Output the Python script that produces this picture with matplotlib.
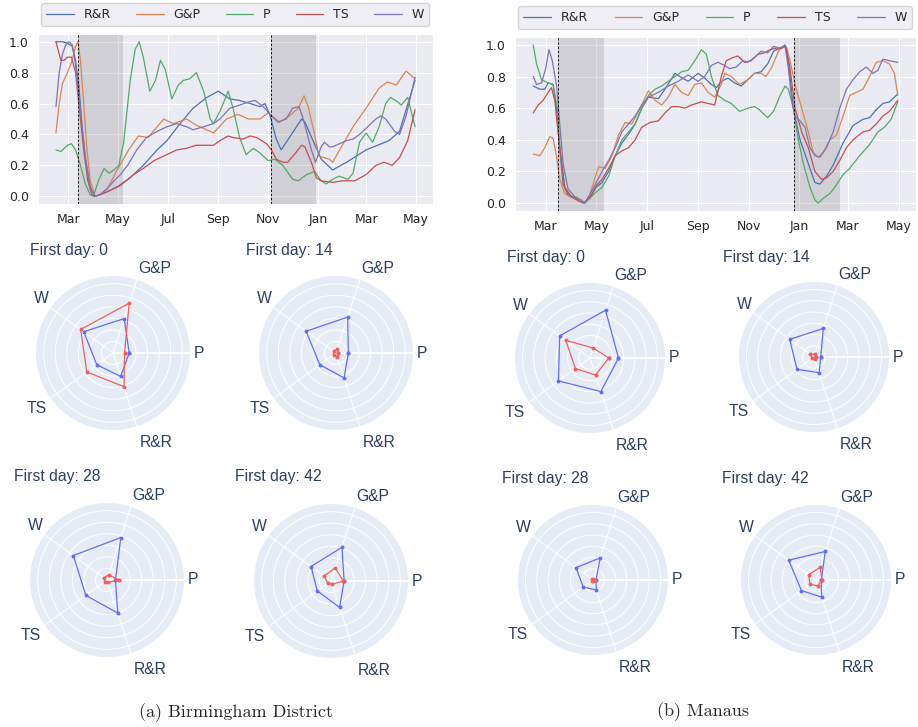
import numpy as np
import pandas as pd
import matplotlib
matplotlib.use('Agg')
import matplotlib.pyplot as plt
import matplotlib.patches as mpatches
import seaborn as sns

sns.set_style('darkgrid')

# ---- data ----
start = pd.Timestamp('2020-03-01')
series_names = ['R&R', 'G&P', 'P', 'TS', 'W']
line_colors = sns.color_palette('deep')[:5]

# Birmingham District (days from 1 Mar 2020, normalised mobility)
bd_rr_day = [-15, -7, -1, 5, 9, 13, 17, 21, 27, 33, 48, 60, 76, 92, 109, 121, 137, 153, 170, 184,
             198, 210, 223, 235, 241, 247, 255, 261, 271, 286, 290, 300, 310, 324, 341, 365, 393, 406, 425]
bd_rr = [1.0, 1.0, 0.99, 0.97, 0.88, 0.72, 0.45, 0.25, 0.06, 0.0, 0.03, 0.06, 0.12, 0.2, 0.3, 0.36, 0.47, 0.57, 0.64, 0.68,
         0.63, 0.62, 0.6, 0.58, 0.6, 0.53, 0.37, 0.3, 0.38, 0.5, 0.48, 0.36, 0.24, 0.17, 0.22, 0.3, 0.36, 0.42, 0.75]
bd_gp_day = [-15, -11, -7, -1, 5, 9, 12, 15, 19, 23, 27, 33, 39, 48, 60, 74, 86, 98, 109, 117, 129, 145, 157,
             178, 194, 208, 221, 235, 245, 259, 271, 282, 289, 294, 302, 307, 320, 324, 336, 349, 365, 381, 391, 402, 414, 425]
bd_gp = [0.41, 0.6, 0.73, 0.8, 0.88, 0.97, 1.0, 0.88, 0.6, 0.3, 0.1, 0.0, 0.01, 0.05, 0.17, 0.3, 0.39, 0.38, 0.45, 0.5, 0.47, 0.5, 0.46,
         0.41, 0.5, 0.53, 0.5, 0.5, 0.54, 0.48, 0.52, 0.57, 0.65, 0.58, 0.4, 0.26, 0.24, 0.22, 0.33, 0.45, 0.57, 0.7, 0.74, 0.72, 0.81, 0.76]
bd_p_day = [-15, -9, -1, 4, 9, 15, 21, 27, 31, 37, 44, 50, 56, 62, 68, 76, 82, 87, 92, 100, 107, 113, 119, 127, 135, 141,
            149, 157, 166, 174, 178, 186, 196, 202, 210, 218, 227, 235, 245, 253, 263, 275, 282, 292, 302, 310, 316, 324,
            332, 343, 349, 357, 365, 373, 381, 389, 395, 404, 408, 416, 425]
bd_p = [0.3, 0.29, 0.33, 0.34, 0.3, 0.2, 0.08, 0.01, 0.0, 0.1, 0.18, 0.15, 0.17, 0.2, 0.35, 0.75, 0.95, 1.0, 0.9, 0.68, 0.75, 0.88, 0.82, 0.63, 0.72, 0.75,
        0.76, 0.8, 0.68, 0.5, 0.47, 0.55, 0.68, 0.57, 0.38, 0.27, 0.31, 0.28, 0.23, 0.24, 0.2, 0.11, 0.1, 0.14, 0.16, 0.1, 0.08, 0.11,
        0.13, 0.11, 0.15, 0.35, 0.41, 0.35, 0.45, 0.6, 0.64, 0.61, 0.59, 0.64, 0.45]
bd_ts_day = [-15, -9, -5, -1, 4, 9, 13, 19, 24, 29, 33, 44, 56, 64, 80, 92, 105, 121, 133, 145, 157, 178, 186, 196, 202,
             214, 223, 231, 243, 249, 255, 263, 269, 277, 286, 290, 298, 304, 310, 324, 336, 351, 365, 377, 387, 397, 406, 416, 425]
bd_ts = [1.0, 0.88, 0.88, 0.9, 0.9, 0.8, 0.6, 0.3, 0.1, 0.01, 0.0, 0.02, 0.05, 0.07, 0.14, 0.18, 0.23, 0.27, 0.3, 0.31, 0.33, 0.33, 0.36, 0.39, 0.38,
         0.37, 0.39, 0.38, 0.34, 0.3, 0.24, 0.22, 0.22, 0.27, 0.33, 0.32, 0.22, 0.12, 0.1, 0.09, 0.1, 0.1, 0.14, 0.2, 0.22, 0.2, 0.25, 0.36, 0.56]
bd_w_day = [-15, -11, -7, -3, 1, 5, 9, 15, 21, 27, 33, 39, 48, 56, 64, 74, 84, 96, 109, 121, 133, 145, 153, 166, 178, 186,
            198, 210, 221, 229, 239, 249, 257, 267, 275, 283, 288, 298, 303, 310, 314, 320, 324, 341, 349, 357, 369, 377,
            383, 389, 400, 406, 414, 425]
bd_w = [0.58, 0.8, 0.92, 0.98, 1.0, 0.98, 0.85, 0.55, 0.25, 0.05, 0.0, 0.01, 0.05, 0.1, 0.14, 0.21, 0.3, 0.38, 0.42, 0.45, 0.47, 0.45, 0.43, 0.45, 0.47, 0.5,
        0.57, 0.59, 0.61, 0.62, 0.58, 0.52, 0.48, 0.5, 0.57, 0.58, 0.5, 0.3, 0.22, 0.32, 0.35, 0.32, 0.32, 0.36, 0.37, 0.4, 0.46, 0.5,
        0.52, 0.5, 0.42, 0.4, 0.52, 0.77]

# Manaus
mn_rr_day = [-15, -7, -1, 3, 9, 13, 17, 21, 27, 35, 43, 47, 53, 61, 68, 76, 84, 92, 102, 108, 116, 124, 136, 144, 156, 162,
             172, 184, 192, 200, 206, 212, 220, 228, 236, 244, 252, 260, 268, 275, 283, 289, 293, 299, 307, 317, 325, 331,
             339, 347, 359, 371, 383, 391, 399, 407, 415, 425]
mn_rr = [0.74, 0.72, 0.72, 0.76, 0.75, 0.6, 0.35, 0.12, 0.05, 0.03, 0.01, 0.0, 0.03, 0.1, 0.13, 0.2, 0.3, 0.38, 0.45, 0.5, 0.6, 0.67, 0.66, 0.72, 0.82, 0.8,
         0.77, 0.82, 0.79, 0.75, 0.73, 0.77, 0.79, 0.76, 0.74, 0.78, 0.82, 0.83, 0.88, 0.96, 0.98, 1.0, 0.9, 0.6, 0.4, 0.25, 0.13, 0.12,
         0.17, 0.24, 0.38, 0.49, 0.53, 0.54, 0.59, 0.63, 0.64, 0.69]
mn_gp_day = [-15, -7, -1, 5, 9, 13, 17, 23, 29, 37, 43, 47, 53, 59, 64, 72, 80, 88, 96, 104, 114, 124, 132, 140, 148, 156,
             164, 172, 180, 188, 196, 204, 212, 216, 224, 234, 244, 252, 260, 266, 273, 281, 287, 291, 295, 301, 309, 317,
             323, 329, 335, 343, 351, 359, 367, 375, 383, 391, 399, 407, 415, 421, 425]
mn_gp = [0.31, 0.3, 0.35, 0.42, 0.41, 0.3, 0.15, 0.06, 0.04, 0.04, 0.01, 0.0, 0.05, 0.15, 0.23, 0.22, 0.3, 0.43, 0.51, 0.5, 0.6, 0.71, 0.65, 0.62, 0.67, 0.75,
         0.7, 0.68, 0.75, 0.76, 0.7, 0.67, 0.75, 0.82, 0.8, 0.75, 0.78, 0.82, 0.82, 0.8, 0.86, 0.96, 0.99, 0.98, 0.9, 0.75, 0.6, 0.45,
         0.32, 0.29, 0.32, 0.4, 0.43, 0.55, 0.68, 0.7, 0.72, 0.8, 0.89, 0.9, 0.88, 0.82, 0.68]
mn_p_day = [-15, -11, -5, 3, 9, 14, 17, 23, 29, 37, 45, 53, 61, 68, 76, 84, 92, 100, 108, 116, 124, 132, 140, 148, 156, 164,
            172, 180, 188, 194, 200, 208, 216, 224, 234, 244, 252, 258, 268, 275, 283, 289, 293, 299, 305, 311, 319, 325,
            329, 335, 343, 349, 359, 367, 379, 391, 401, 409, 417, 425]
mn_p = [1.0, 0.88, 0.78, 0.76, 0.75, 0.6, 0.35, 0.1, 0.05, 0.03, 0.0, 0.03, 0.07, 0.1, 0.17, 0.3, 0.4, 0.45, 0.5, 0.6, 0.68, 0.72, 0.74, 0.77, 0.8, 0.83,
        0.84, 0.9, 0.97, 0.94, 0.8, 0.68, 0.65, 0.63, 0.58, 0.6, 0.61, 0.59, 0.54, 0.58, 0.68, 0.74, 0.72, 0.6, 0.4, 0.25, 0.1, 0.02,
        0.0, 0.03, 0.06, 0.1, 0.18, 0.22, 0.3, 0.37, 0.45, 0.48, 0.53, 0.64]
mn_ts_day = [-15, -9, -3, 3, 7, 11, 17, 23, 31, 41, 47, 55, 61, 68, 76, 84, 92, 100, 108, 116, 126, 136, 144, 152, 160, 168,
             176, 188, 196, 204, 212, 218, 226, 232, 240, 248, 256, 264, 271, 279, 285, 290, 295, 301, 309, 317, 325, 333,
             339, 347, 355, 363, 371, 383, 391, 399, 407, 415, 425]
mn_ts = [0.57, 0.62, 0.65, 0.7, 0.73, 0.65, 0.35, 0.1, 0.04, 0.01, 0.0, 0.05, 0.11, 0.15, 0.22, 0.3, 0.33, 0.35, 0.4, 0.48, 0.51, 0.52, 0.57, 0.61, 0.61, 0.6,
         0.62, 0.64, 0.63, 0.62, 0.8, 0.9, 0.92, 0.93, 0.89, 0.9, 0.94, 0.95, 0.97, 0.98, 0.98, 0.99, 0.85, 0.6, 0.45, 0.35, 0.2, 0.15,
         0.16, 0.2, 0.27, 0.35, 0.4, 0.45, 0.46, 0.5, 0.55, 0.58, 0.65]
mn_w_day = [-15, -11, -5, 0, 4, 8, 13, 17, 21, 27, 35, 43, 47, 53, 61, 68, 76, 84, 92, 100, 108, 116, 124, 136, 148, 160,
            172, 184, 192, 200, 208, 216, 222, 230, 238, 244, 252, 260, 268, 275, 283, 289, 293, 297, 301, 307, 313, 319,
            325, 331, 339, 347, 355, 363, 371, 379, 387, 395, 401, 407, 415, 425]
mn_w = [0.8, 0.75, 0.76, 0.85, 0.97, 0.9, 0.75, 0.5, 0.25, 0.09, 0.04, 0.02, 0.0, 0.05, 0.13, 0.2, 0.27, 0.35, 0.45, 0.5, 0.55, 0.62, 0.67, 0.7, 0.74, 0.77,
        0.81, 0.77, 0.8, 0.87, 0.89, 0.87, 0.85, 0.86, 0.9, 0.89, 0.92, 0.96, 0.95, 0.99, 0.98, 0.99, 0.85, 0.65, 0.55, 0.52, 0.48, 0.35,
        0.3, 0.29, 0.35, 0.45, 0.6, 0.72, 0.78, 0.83, 0.86, 0.82, 0.84, 0.91, 0.9, 0.89]

# lockdown start days (8-week window shaded)
bd_lockdowns = [12, 249]
mn_lockdowns = [15, 300]
window_days = 55

# radar charts: axis order counter-clockwise from the right
radar_labels = ['P', 'G&P', 'W', 'TS', 'R&R']
radar_days = [0, 14, 28, 42]
bd_radar_blue = [[0.21, 0.47, 0.47, 0.26, 0.32], [0.16, 0.49, 0.48, 0.26, 0.34],
                 [0.11, 0.58, 0.54, 0.34, 0.45], [0.17, 0.46, 0.32, 0.22, 0.36]]
bd_radar_red = [[0.15, 0.68, 0.52, 0.42, 0.46], [0.03, 0.05, 0.04, 0.04, 0.05],
                [0.16, 0.07, 0.05, 0.035, 0.03], [0.16, 0.18, 0.11, 0.05, 0.045]]
mn_radar_blue = [[0.38, 0.67, 0.50, 0.52, 0.47], [0.09, 0.40, 0.40, 0.28, 0.22],
                 [0.04, 0.31, 0.28, 0.16, 0.14], [0.07, 0.40, 0.45, 0.24, 0.24]]
mn_radar_red = [[0.25, 0.14, 0.40, 0.24, 0.24], [0.02, 0.04, 0.06, 0.03, 0.03],
                [0.02, 0.02, 0.02, 0.02, 0.02], [0.08, 0.18, 0.12, 0.10, 0.08]]

W_PX, H_PX = 918, 727
fig = plt.figure(figsize=(W_PX / 100, H_PX / 100), dpi=100)


def px_rect(x0, y0, x1, y1):
    # image pixel box (top-left origin) -> figure fraction rect
    return [x0 / W_PX, 1 - y1 / H_PX, (x1 - x0) / W_PX, (y1 - y0) / H_PX]


def line_panel(rect, data, lockdowns):
    ax = fig.add_axes(rect)
    for name, (days, vals), c in zip(series_names, data, line_colors):
        dates = start + pd.to_timedelta(days, unit='D')
        ax.plot(dates, vals, color=c, lw=0.9, label=name)
    for d in lockdowns:
        d0 = start + pd.Timedelta(days=d)
        ax.axvline(d0, color='k', ls=(0, (3, 2)), lw=0.6)
        ax.axvspan(d0, d0 + pd.Timedelta(days=window_days), color='gray', alpha=0.25, lw=0)
    ax.set_yticks(np.arange(0, 1.01, 0.2))
    ax.xaxis.set_major_locator(matplotlib.dates.MonthLocator(bymonth=[1, 3, 5, 7, 9, 11]))
    ax.xaxis.set_major_formatter(matplotlib.dates.DateFormatter('%b'))
    ax.tick_params(labelsize=9, pad=3)
    ax.legend(loc='lower left', bbox_to_anchor=(0.008, 1.045, 0.982, 0.13), mode='expand',
              ncol=5, fontsize=9, borderaxespad=0, handlelength=2.2)
    return ax


line_panel(px_rect(38, 34, 433, 204),
           [(bd_rr_day, bd_rr), (bd_gp_day, bd_gp), (bd_p_day, bd_p), (bd_ts_day, bd_ts), (bd_w_day, bd_w)],
           bd_lockdowns)
line_panel(px_rect(515, 37, 916, 211),
           [(mn_rr_day, mn_rr), (mn_gp_day, mn_gp), (mn_p_day, mn_p), (mn_ts_day, mn_ts), (mn_w_day, mn_w)],
           mn_lockdowns)

radar_font = ['Liberation Sans', 'DejaVu Sans']
label_col = '#2a3f5f'
angles = np.deg2rad([0, 72, 144, 216, 288])
label_place = {'P': (1.05, 'left', 'center'), 'G&P': (1.05, 'left', 'bottom'),
               'W': (1.03, 'right', 'bottom'), 'TS': (1.07, 'right', 'top'),
               'R&R': (1.12, 'left', 'top')}


def radar_panel(cx, cy, R, blue, red, title_xy, day):
    L = 1.45
    ax = fig.add_axes(px_rect(cx - L * R, cy - L * R, cx + L * R, cy + L * R))
    ax.set_xlim(-L, L)
    ax.set_ylim(-L, L)
    ax.axis('off')
    ax.add_patch(mpatches.Circle((0, 0), 1.0, fc='#E5ECF6', ec='none'))
    for r in np.arange(0.15, 0.95, 0.15):
        ax.add_patch(mpatches.Circle((0, 0), r, fill=False, ec='white', lw=0.7))
    for a in angles:
        ax.plot([0, np.cos(a)], [0, np.sin(a)], color='white', lw=1.4 if a == 0 else 0.7)
    for vals, c in [(blue, '#636EFA'), (red, '#F0605C')]:
        v = np.array(vals + vals[:1])
        a = np.append(angles, angles[0])
        ax.plot(v * np.cos(a), v * np.sin(a), color=c, lw=0.9, marker='o', ms=1.8)
    for lab, a in zip(radar_labels, angles):
        r, ha, va = label_place[lab]
        ax.text(r * np.cos(a), r * np.sin(a), lab, ha=ha, va=va, fontsize=11.3,
                color=label_col, family=radar_font)
    fig.text(title_xy[0] / W_PX, 1 - title_xy[1] / H_PX, 'First day: %d' % day, ha='left', va='center',
             fontsize=11.3, color=label_col, family=radar_font)


bd_centers = [(113, 353), (336, 353), (107, 580), (331, 581)]
bd_titles = [(30, 250), (246, 250), (14, 476), (235, 476)]
mn_centers = [(590, 358), (814, 357), (593, 580), (816, 580)]
mn_titles = [(507, 257), (723, 257), (502, 478), (722, 479)]

for i, day in enumerate(radar_days):
    radar_panel(bd_centers[i][0], bd_centers[i][1], 77, bd_radar_blue[i], bd_radar_red[i], bd_titles[i], day)
    radar_panel(mn_centers[i][0], mn_centers[i][1], 75, mn_radar_blue[i], mn_radar_red[i], mn_titles[i], day)

fig.text(236 / W_PX, 1 - 713 / H_PX, '(a) Birmingham District', ha='center', va='center',
         fontsize=13, family=['cmr10', 'DejaVu Serif'])
fig.text(703 / W_PX, 1 - 712 / H_PX, '(b) Manaus', ha='center', va='center',
         fontsize=13, family=['cmr10', 'DejaVu Serif'])

fig.savefig('out.png', dpi=100)
